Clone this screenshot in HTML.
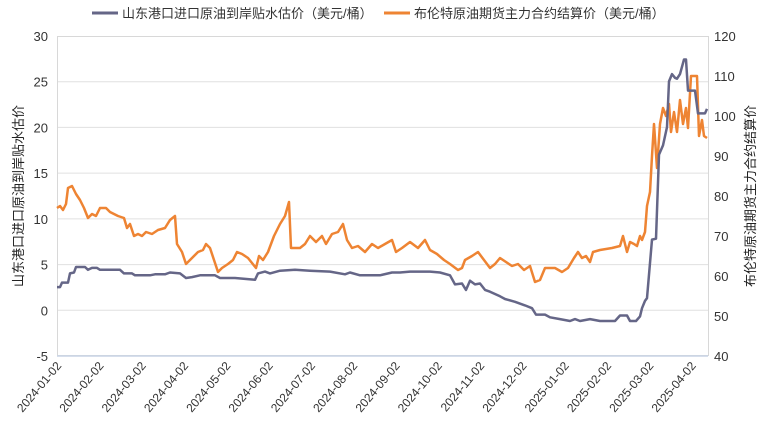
<!DOCTYPE html>
<html><head><meta charset="utf-8"><style>
body{margin:0;background:#fff;}
svg{display:block;font-family:"Liberation Sans","Noto Sans CJK SC",sans-serif;}
</style></head><body>
<svg id="s" width="774" height="444" viewBox="0 0 774 444">
<g stroke="#e0e0e0" stroke-width="1" id="grid"></g>
<rect x="57.5" y="36.5" width="651" height="319" fill="none" stroke="#d8d8d8"/>
<line x1="57" y1="356" x2="708" y2="356" stroke="#c8d4e6" stroke-width="1.5"/>
<g font-size="13" fill="#333" id="lab"></g>
<text transform="translate(23,196) rotate(-90)" text-anchor="middle" font-size="13" fill="#222">山东港口进口原油到岸贴水估价</text>
<text transform="translate(755,196) rotate(-90)" text-anchor="middle" font-size="13" fill="#222">布伦特原油期货主力合约结算价</text>
<line x1="92" y1="13" x2="118" y2="13" stroke="#656687" stroke-width="3"/>
<text x="122" y="18" font-size="13" fill="#333">山东港口进口原油到岸贴水估价（美元/桶）</text>
<line x1="384" y1="13" x2="410" y2="13" stroke="#ee8433" stroke-width="3"/>
<text x="414" y="18" font-size="13" fill="#333">布伦特原油期货主力合约结算价（美元/桶）</text>
<polyline id="o" fill="none" stroke="#ee8433" stroke-width="2.5" stroke-linejoin="round"/>
<polyline id="g" fill="none" stroke="#656687" stroke-width="2.5" stroke-linejoin="round"/>
</svg>
<script>
var NS="http://www.w3.org/2000/svg",grid=document.getElementById('grid'),lab=document.getElementById('lab');
function el(t,a,p,txt){var e=document.createElementNS(NS,t);for(var k in a)e.setAttribute(k,a[k]);if(txt!=null)e.textContent=txt;p.appendChild(e);return e;}
for(var i=0;i<8;i++){var v=30-5*i,y=36+i*(320/7);if(i>0&&i<7)el('line',{x1:57,x2:708,y1:y.toFixed(1),y2:y.toFixed(1)},grid);
el('text',{x:48,y:(y+5).toFixed(1),'text-anchor':'end'},lab,v);}
for(var i=0;i<9;i++){var v=120-10*i,y=36+i*40;el('text',{x:714,y:y+5},lab,v);}
var m=["2024-01-02","2024-02-02","2024-03-02","2024-04-02","2024-05-02","2024-06-02","2024-07-02","2024-08-02","2024-09-02","2024-10-02","2024-11-02","2024-12-02","2025-01-02","2025-02-02","2025-03-02","2025-04-02"];
for(var i=0;i<16;i++){var x=62+i*42.3;el('text',{transform:'translate('+x+',366) rotate(-50)','text-anchor':'end','font-size':12},lab,m[i]);}
var G=[[57,2.5],[60,2.5],[62,3],[68,3],[70,4],[74,4.1],[76,4.7],[85,4.7],[88,4.4],[92,4.6],[97,4.6],[100,4.4],[120,4.4],[124,4],[132,4],[135,3.8],[150,3.8],[155,3.9],[165,3.9],[170,4.1],[180,4],[186,3.5],[192,3.6],[200,3.8],[215,3.8],[220,3.5],[235,3.5],[245,3.4],[255,3.3],[258,4],[265,4.2],[270,4],[280,4.3],[295,4.4],[310,4.3],[330,4.2],[345,3.9],[350,4.1],[360,3.8],[380,3.8],[392,4.1],[400,4.1],[410,4.2],[430,4.2],[440,4.1],[450,3.8],[455,2.8],[462,2.9],[466,2.2],[470,3.2],[475,2.8],[480,2.9],[485,2.2],[490,2],[500,1.5],[505,1.2],[515,0.9],[525,0.5],[532,0.2],[536,-0.5],[545,-0.5],[550,-0.8],[560,-1],[570,-1.2],[575,-1],[580,-1.2],[590,-1],[600,-1.2],[615,-1.2],[620,-0.6],[627,-0.6],[630,-1.2],[636,-1.2],[640,-0.7],[642,0.2],[645,1],[647,1.3],[652,7.7],[656,7.8],[659,17],[663,18],[667,20],[669,25],[672,25.8],[675,25.4],[677,25.3],[680,25.8],[684,27.4],[686,27.4],[688,24],[695,24],[698,21.5],[705,21.5],[707,22]];
var O=[[57,77],[60,77.5],[63,76.5],[66,78],[68,82],[72,82.5],[76,80.5],[80,79],[84,77],[88,74.5],[92,75.5],[96,75],[100,77],[106,77],[110,76],[118,75],[124,74.5],[127,72],[130,73],[134,70],[138,70.5],[142,70],[146,71],[152,70.5],[158,71.5],[165,72],[170,74],[175,75],[177,68],[182,66],[186,63],[192,64.5],[198,66],[203,66.5],[206,68],[210,67],[214,64],[218,61],[222,62],[228,63],[233,64],[237,66],[242,65.5],[248,64.5],[256,62],[259,65],[263,64],[268,66],[274,70],[280,73],[285,75],[289,78.5],[291,67],[300,67],[305,68],[310,70],[316,68.5],[322,70],[326,68],[332,70.5],[338,71],[343,73],[347,69],[352,67],[358,67.5],[365,66],[372,68],[378,67],[385,68],[392,69],[396,66],[402,67],[410,68.5],[418,67],[425,69],[430,66.5],[437,65.5],[444,64],[450,63],[458,61.5],[462,62],[465,64],[472,65],[478,66],[484,64],[490,62],[495,63],[500,64.5],[506,63.5],[512,62.5],[518,63],[524,61.5],[530,62.5],[535,58.5],[540,59],[545,62],[555,62],[562,61],[568,62],[574,64.5],[578,66],[582,64.5],[586,65],[590,63.5],[593,66],[600,66.5],[612,67],[620,67.5],[623,70],[627,66],[630,68.5],[634,68],[637,67.5],[640,70],[642,69],[645,71],[647,77.5],[650,81],[652,90],[654,98],[657,87],[660,98],[663,102],[666,100],[669,103],[671,96],[674,101],[677,96],[680,104],[683,98],[686,102],[688,97],[691,110],[697,110],[699,95],[702,99],[704,95],[707,94.5]];
document.getElementById('g').setAttribute('points',G.map(function(p){return p[0]+','+(310-p[1]*9.143).toFixed(1)}).join(' '));
document.getElementById('o').setAttribute('points',O.map(function(p){return p[0]+','+(36+(120-p[1])*4).toFixed(1)}).join(' '));
</script>
</body></html>
